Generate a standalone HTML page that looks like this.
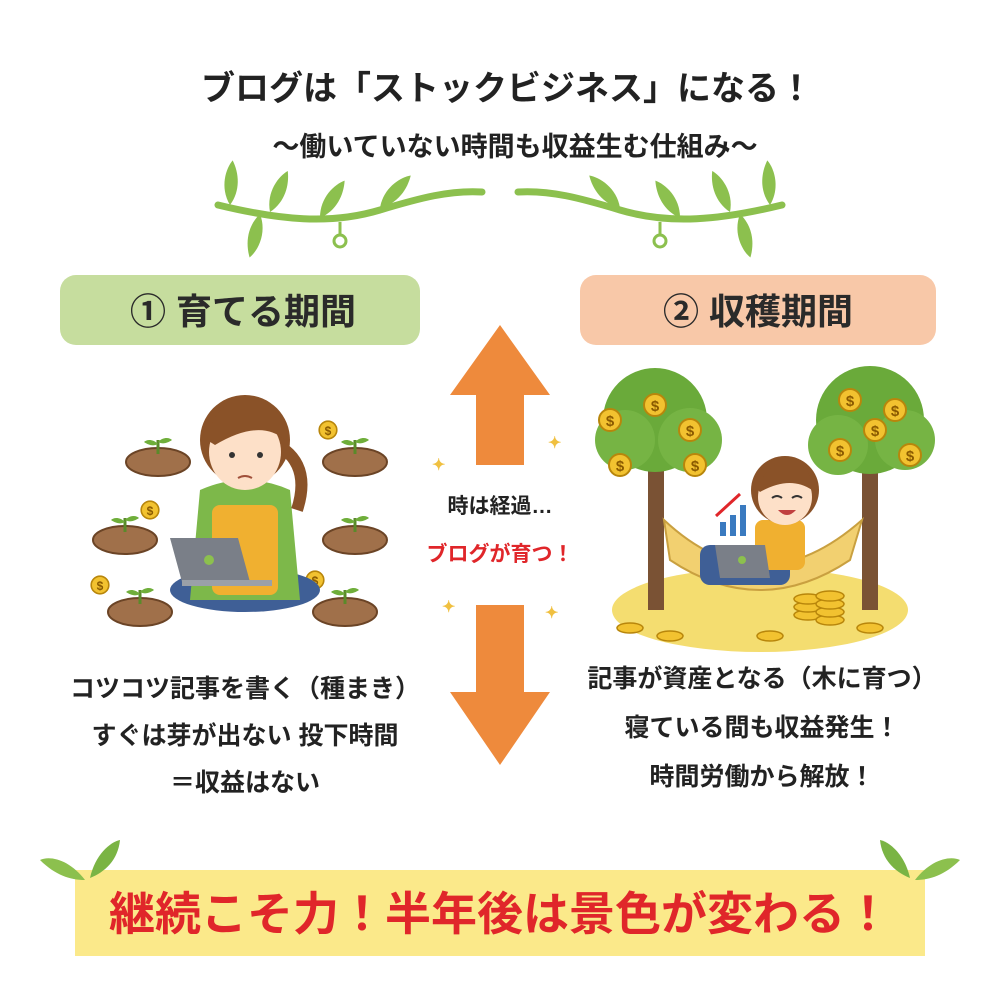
<!DOCTYPE html>
<html><head><meta charset="utf-8"><style>
html,body{margin:0;padding:0;background:#fff;}
svg{display:block}
text{font-family:"Liberation Sans","Noto Sans CJK JP",sans-serif;font-weight:bold;}
</style></head><body>
<svg width="1000" height="1000" viewBox="0 0 1000 1000" xmlns="http://www.w3.org/2000/svg">
<defs>
<g id="leaf"><path d="M0 0 C10 -18 30 -22 40 -20 C32 -8 18 2 0 0Z" fill="#8cc04e"/></g>
<g id="coin"><circle r="11" fill="#f2c230" stroke="#b8860b" stroke-width="2"/><text y="6" font-size="15" text-anchor="middle" fill="#8a5a00">$</text></g>
<g id="mound"><ellipse cx="0" cy="0" rx="32" ry="14" fill="#a0704a" stroke="#6b4426" stroke-width="2"/><path d="M0 -8 v-14" stroke="#5a8a2a" stroke-width="3"/><path d="M0 -18 c-6 -6 -12 -4 -14 -2 c6 4 10 4 14 2z M0 -20 c6 -6 12 -4 14 -2 c-6 4 -10 4 -14 2z" fill="#6fae3a"/></g>
</defs>
<text x="507" y="100" font-size="34" text-anchor="middle" fill="#222">ブログは「ストックビジネス」になる！</text>
<text x="515" y="156" font-size="27" text-anchor="middle" fill="#222">〜働いていない時間も収益生む仕組み〜</text>
<path d="M218 205 C280 220 330 225 380 210 C420 198 450 190 482 192" stroke="#8cc04e" stroke-width="7" fill="none" stroke-linecap="round"/>
<path d="M782 205 C720 220 670 225 620 210 C580 198 550 190 518 192" stroke="#8cc04e" stroke-width="7" fill="none" stroke-linecap="round"/>
<use href="#leaf" transform="translate(230,205) rotate(-60)"/><use href="#leaf" transform="translate(270,212) rotate(-40)"/><use href="#leaf" transform="translate(320,218) rotate(-30)"/><use href="#leaf" transform="translate(380,208) rotate(-20)"/><use href="#leaf" transform="translate(260,214) rotate(130)"/>
<use href="#leaf" transform="translate(770,205) scale(-1,1) rotate(-60)"/><use href="#leaf" transform="translate(730,212) scale(-1,1) rotate(-40)"/><use href="#leaf" transform="translate(680,218) scale(-1,1) rotate(-30)"/><use href="#leaf" transform="translate(620,208) scale(-1,1) rotate(-20)"/><use href="#leaf" transform="translate(740,214) scale(-1,1) rotate(130)"/>
<path d="M340 222 v14" stroke="#8cc04e" stroke-width="3"/><circle cx="340" cy="241" r="6" fill="none" stroke="#8cc04e" stroke-width="3"/>
<path d="M660 222 v14" stroke="#8cc04e" stroke-width="3"/><circle cx="660" cy="241" r="6" fill="none" stroke="#8cc04e" stroke-width="3"/>
<rect x="60" y="275" width="360" height="70" rx="16" fill="#c6dd9e"/>
<text x="243" y="324" font-size="36" text-anchor="middle" fill="#2a2a2a">① 育てる期間</text>
<rect x="580" y="275" width="356" height="70" rx="16" fill="#f8c8a8"/>
<text x="758" y="324" font-size="36" text-anchor="middle" fill="#2a2a2a">② 収穫期間</text>
<polygon points="500,325 550,395 524,395 524,465 476,465 476,395 450,395" fill="#ee8a3c"/>
<polygon points="500,765 550,692 524,692 524,605 476,605 476,692 450,692" fill="#ee8a3c"/>
<text x="500" y="513" font-size="21" text-anchor="middle" fill="#222">時は経過…</text>
<text x="500" y="561" font-size="21" text-anchor="middle" fill="#e0262a">ブログが育つ！</text>
<g fill="#f0c040"><text x="432" y="470" font-size="16">✦</text><text x="548" y="448" font-size="16">✦</text><text x="442" y="612" font-size="16">✦</text><text x="545" y="618" font-size="16">✦</text></g>
<use href="#mound" transform="translate(158,462)"/><use href="#mound" transform="translate(125,540)"/><use href="#mound" transform="translate(140,612)"/>
<use href="#mound" transform="translate(355,462)"/><use href="#mound" transform="translate(355,540)"/><use href="#mound" transform="translate(345,612)"/>
<use href="#coin" transform="translate(328,430) scale(.8)"/><use href="#coin" transform="translate(150,510) scale(.8)"/><use href="#coin" transform="translate(100,585) scale(.8)"/><use href="#coin" transform="translate(315,580) scale(.8)"/>
<ellipse cx="245" cy="590" rx="75" ry="22" fill="#3f5f96"/>
<path d="M200 490 Q245 470 290 490 L300 600 L190 600Z" fill="#7db84a"/>
<rect x="212" y="505" width="66" height="90" rx="8" fill="#f0b030"/>
<circle cx="245" cy="440" r="45" fill="#8a5228"/>
<ellipse cx="245" cy="452" rx="36" ry="38" fill="#fde0c8"/>
<path d="M207 440 Q215 398 250 400 Q285 402 285 440 Q260 418 215 445Z" fill="#8a5228"/>
<path d="M285 450 q25 20 12 60" stroke="#8a5228" stroke-width="12" fill="none"/>
<circle cx="232" cy="455" r="3" fill="#333"/><circle cx="260" cy="455" r="3" fill="#333"/>
<path d="M238 478 q7 -4 14 0" stroke="#a0503a" stroke-width="2" fill="none"/>
<polygon points="170,538 238,538 250,582 182,582" fill="#7a7f88"/>
<circle cx="209" cy="560" r="5" fill="#8cc04e"/>
<rect x="182" y="580" width="90" height="6" fill="#9aa0a8"/>
<ellipse cx="760" cy="610" rx="148" ry="42" fill="#f4dd70"/>
<rect x="648" y="440" width="16" height="170" fill="#7a5234"/>
<rect x="862" y="440" width="16" height="170" fill="#7a5234"/>
<circle cx="655" cy="420" r="52" fill="#6aaa3a"/><circle cx="625" cy="440" r="30" fill="#76b444"/><circle cx="690" cy="440" r="32" fill="#76b444"/>
<circle cx="870" cy="420" r="54" fill="#6aaa3a"/><circle cx="838" cy="445" r="30" fill="#76b444"/><circle cx="905" cy="440" r="30" fill="#76b444"/>
<use href="#coin" transform="translate(655,405)"/><use href="#coin" transform="translate(610,420)"/><use href="#coin" transform="translate(620,465)"/><use href="#coin" transform="translate(690,430)"/><use href="#coin" transform="translate(695,465)"/>
<use href="#coin" transform="translate(850,400)"/><use href="#coin" transform="translate(895,410)"/><use href="#coin" transform="translate(840,450)"/><use href="#coin" transform="translate(910,455)"/><use href="#coin" transform="translate(875,430)"/>
<path d="M664 520 Q760 610 862 520 L850 560 Q760 620 670 560Z" fill="#f2d070" stroke="#c9a040" stroke-width="2"/>
<rect x="700" y="545" width="90" height="40" rx="10" fill="#3f5f96"/>
<rect x="755" y="520" width="50" height="50" rx="8" fill="#f0b030"/>
<circle cx="785" cy="490" r="34" fill="#8a5228"/><ellipse cx="785" cy="497" rx="27" ry="28" fill="#fde0c8"/>
<path d="M758 490 Q765 462 790 462 Q812 465 812 490 Q790 475 760 492Z" fill="#8a5228"/>
<path d="M772 498 q5 -4 10 0 M792 498 q5 -4 10 0" stroke="#333" stroke-width="2" fill="none"/>
<path d="M778 510 q9 10 18 0z" fill="#c04040"/>
<polygon points="715,545 765,545 770,578 720,578" fill="#7a7f88"/><circle cx="742" cy="560" r="4" fill="#8cc04e"/>
<rect x="720" y="522" width="6" height="14" fill="#3a7ac0"/><rect x="730" y="515" width="6" height="21" fill="#3a7ac0"/><rect x="740" y="505" width="6" height="31" fill="#3a7ac0"/>
<path d="M716 516 L740 494" stroke="#e0262a" stroke-width="3"/>
<g fill="#f2c230" stroke="#b8860b" stroke-width="1.5">
<ellipse cx="808" cy="615" rx="14" ry="5"/><ellipse cx="808" cy="607" rx="14" ry="5"/><ellipse cx="808" cy="599" rx="14" ry="5"/>
<ellipse cx="830" cy="620" rx="14" ry="5"/><ellipse cx="830" cy="612" rx="14" ry="5"/><ellipse cx="830" cy="604" rx="14" ry="5"/><ellipse cx="830" cy="596" rx="14" ry="5"/>
<ellipse cx="630" cy="628" rx="13" ry="5"/><ellipse cx="670" cy="636" rx="13" ry="5"/><ellipse cx="770" cy="636" rx="13" ry="5"/><ellipse cx="870" cy="628" rx="13" ry="5"/>
</g>
<g font-size="25" fill="#222" text-anchor="middle">
<text x="245" y="697">コツコツ記事を書く（種まき）</text>
<text x="245" y="744">すぐは芽が出ない 投下時間</text>
<text x="245" y="791">＝収益はない</text>
<text x="762" y="687">記事が資産となる（木に育つ）</text>
<text x="762" y="736">寝ている間も収益発生！</text>
<text x="762" y="785">時間労働から解放！</text>
</g>
<rect x="75" y="870" width="850" height="86" fill="#fbe98a"/>
<text x="500" y="930" font-size="46" text-anchor="middle" fill="#e0262a">継続こそ力！半年後は景色が変わる！</text>
<path d="M85 880 C70 860 50 855 40 860 C55 875 70 880 85 880Z" fill="#8cc04e"/>
<path d="M90 878 C95 855 110 842 120 840 C118 860 105 872 90 878Z" fill="#7ab444"/>
<path d="M915 880 C930 860 950 855 960 860 C945 875 930 880 915 880Z" fill="#8cc04e"/>
<path d="M910 878 C905 855 890 842 880 840 C882 860 895 872 910 878Z" fill="#7ab444"/>
</svg>
</body></html>
